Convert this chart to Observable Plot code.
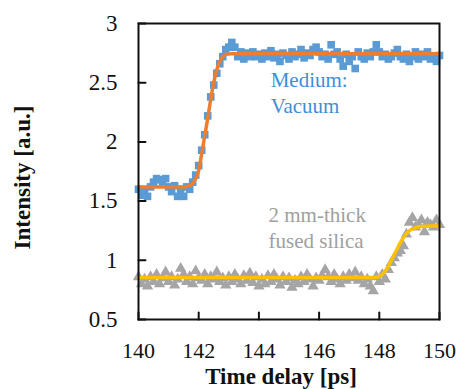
<!DOCTYPE html>
<html>
<head>
<meta charset="utf-8">
<script src="https://cdn.jsdelivr.net/npm/d3@7"></script>
<script src="https://cdn.jsdelivr.net/npm/@observablehq/plot@0.6"></script>
<style>
  html, body { margin: 0; padding: 0; background: #fff; }
  #chart svg { display: block; background: #fff; }
  #chart svg, #chart svg text, #chart svg tspan { font-family: "Liberation Serif", "Times New Roman", serif !important; }
</style>
</head>
<body>
<div id="chart"></div>
<script>
// ---- data ----
const time = [140.0,140.1,140.2,140.3,140.4,140.5,140.6,140.7,140.8,140.9,
  141.0,141.1,141.2,141.3,141.4,141.5,141.6,141.7,141.8,141.9,
  142.0,142.1,142.2,142.3,142.4,142.5,142.6,142.7,142.8,142.9,
  143.0,143.1,143.2,143.3,143.4,143.5,143.6,143.7,143.8,143.9,
  144.0,144.1,144.2,144.3,144.4,144.5,144.6,144.7,144.8,144.9,
  145.0,145.1,145.2,145.3,145.4,145.5,145.6,145.7,145.8,145.9,
  146.0,146.1,146.2,146.3,146.4,146.5,146.6,146.7,146.8,146.9,
  147.0,147.1,147.2,147.3,147.4,147.5,147.6,147.7,147.8,147.9,
  148.0,148.1,148.2,148.3,148.4,148.5,148.6,148.7,148.8,148.9,
  149.0,149.1,149.2,149.3,149.4,149.5,149.6,149.7,149.8,149.9,150.0];

const vacuum = [1.60,1.55,1.58,1.54,1.62,1.66,1.69,1.68,1.66,1.69,
  1.62,1.58,1.63,1.54,1.60,1.54,1.62,1.60,1.66,1.72,
  1.80,1.93,2.06,2.22,2.38,2.48,2.58,2.66,2.72,2.78,
  2.80,2.84,2.80,2.72,2.76,2.70,2.75,2.72,2.76,2.72,
  2.74,2.70,2.75,2.72,2.77,2.71,2.74,2.68,2.75,2.73,
  2.70,2.76,2.72,2.74,2.78,2.71,2.75,2.73,2.78,2.80,
  2.76,2.72,2.74,2.70,2.82,2.74,2.76,2.70,2.64,2.74,
  2.68,2.72,2.62,2.76,2.72,2.70,2.75,2.72,2.76,2.82,
  2.76,2.72,2.74,2.70,2.72,2.75,2.78,2.72,2.70,2.74,
  2.68,2.72,2.76,2.70,2.74,2.72,2.76,2.70,2.72,2.68,2.73];

const silica = [0.86,0.80,0.84,0.78,0.86,0.82,0.88,0.80,0.85,0.90,
  0.82,0.86,0.79,0.84,0.93,0.88,0.82,0.86,0.80,0.91,
  0.85,0.83,0.88,0.80,0.86,0.84,0.90,0.82,0.85,0.79,
  0.86,0.82,0.88,0.84,0.80,0.87,0.83,0.89,0.81,0.86,
  0.78,0.84,0.80,0.87,0.82,0.88,0.84,0.79,0.86,0.82,
  0.85,0.77,0.83,0.80,0.86,0.82,0.88,0.84,0.78,0.85,
  0.83,0.87,0.92,0.86,0.82,0.88,0.84,0.80,0.86,0.83,
  0.88,0.85,0.90,0.83,0.86,0.80,0.84,0.78,0.74,0.86,
  0.82,0.88,0.84,0.92,0.98,1.02,1.06,1.08,1.12,1.22,
  1.32,1.36,1.28,1.30,1.34,1.24,1.32,1.30,1.28,1.34,1.30];

const fitTimeVac = [140.0,141.0,141.5,141.7,141.8,141.9,142.0,142.1,142.2,142.3,142.4,142.5,142.6,142.7,142.8,142.9,143.1,144.0,150.0];
const fitVac     = [1.62,1.62,1.62,1.63,1.65,1.69,1.76,1.90,2.05,2.20,2.36,2.50,2.61,2.68,2.72,2.74,2.745,2.745,2.745];

const fitTimeSil = [140.0,145.0,147.8,147.9,148.0,148.1,148.2,148.3,148.4,148.5,148.6,148.7,148.8,148.9,149.0,149.2,149.4,149.7,150.0];
const fitSil     = [0.855,0.855,0.855,0.857,0.865,0.88,0.91,0.95,1.00,1.05,1.10,1.15,1.19,1.225,1.25,1.275,1.285,1.29,1.29];

const xTicks = [140,142,144,146,148,150];
const yTicks = [0.5,1,1.5,2,2.5,3];
const xLabel = "Time delay [ps]";
const yLabel = "Intensity [a.u.]";
const vacLabel = "Medium:\nVacuum";
const silLabel = "2 mm-thick\nfused silica";

const vacData = time.map((t,i) => ({t, v: vacuum[i]}));
const silData = time.map((t,i) => ({t, v: silica[i]}));
const vacFit = fitTimeVac.map((t,i) => ({t, v: fitVac[i]}));
const silFit = fitTimeSil.map((t,i) => ({t, v: fitSil[i]}));

const tickShape = { draw(context, l) { context.moveTo(0, 0); context.lineTo(0, -l); } };
const serif = "Liberation Serif";

const chart = Plot.plot({
  width: 459,
  height: 389,
  marginLeft: 138,
  marginRight: 20,
  marginTop: 23,
  marginBottom: 70,
  style: "font-family: 'Liberation Serif', serif; font-size: 22px; color: #111; background: #fff;",
  x: { domain: [140, 150] },
  y: { domain: [0.5, 3] },
  marks: [
    Plot.dot(vacData, { x: "t", y: "v", symbol: "square", r: 4.3, fill: "#5B9BD5", stroke: "none" }),
    Plot.line(vacFit, { x: "t", y: "v", stroke: "#ED7D31", strokeWidth: 3.5, curve: "monotone-x" }),
    Plot.dot(silData, { x: "t", y: "v", symbol: "triangle", r: 4.2, fill: "#A5A5A5", stroke: "none" }),
    Plot.line(silFit, { x: "t", y: "v", stroke: "#FFC000", strokeWidth: 3.5, curve: "monotone-x" }),
    Plot.text([vacLabel], { x: 144.39, y: 2.24, text: d => d, textAnchor: "start", lineAnchor: "bottom", lineHeight: 1.24, fontSize: 21, fontFamily: serif, fill: "#3D8FD8" }),
    Plot.text([silLabel], { x: 144.32, y: 1.10, text: d => d, textAnchor: "start", lineAnchor: "bottom", lineHeight: 1.24, fontSize: 21, fontFamily: serif, fill: "#A0A0A0" }),
    Plot.frame({ stroke: "#111", strokeWidth: 2 }),
    Plot.vector(xTicks, { x: d => d, y: 0.5, length: 7, rotate: 0, anchor: "start", stroke: "#111", strokeWidth: 2, shape: tickShape }),
    Plot.vector(yTicks, { x: 140, y: d => d, length: 7, rotate: 90, anchor: "start", stroke: "#111", strokeWidth: 2, shape: tickShape }),
    Plot.axisX({ ticks: xTicks, tickSize: 0, tickPadding: 23, tickFormat: d => String(d), label: null, fontSize: 22, fontFamily: serif }),
    Plot.axisY({ ticks: yTicks, tickSize: 0, tickPadding: 21, tickFormat: d => String(d), label: null, fontSize: 23, fontFamily: serif }),
    Plot.text([xLabel], { frameAnchor: "bottom", textAnchor: "middle", lineAnchor: "bottom", dx: -8, dy: 64, text: d => d, fontWeight: "bold", fontSize: 23, fontFamily: serif, fill: "#111" }),
    Plot.text([yLabel], { frameAnchor: "left", textAnchor: "middle", lineAnchor: "middle", dx: -116, dy: 6, rotate: -90, text: d => d, fontWeight: "bold", fontSize: 23, fontFamily: serif, fill: "#111" })
  ]
});
d3.select(chart).selectAll("text, tspan").style("font-family", "'Liberation Serif', serif", "important");
document.getElementById("chart").appendChild(chart);
</script>
</body>
</html>
